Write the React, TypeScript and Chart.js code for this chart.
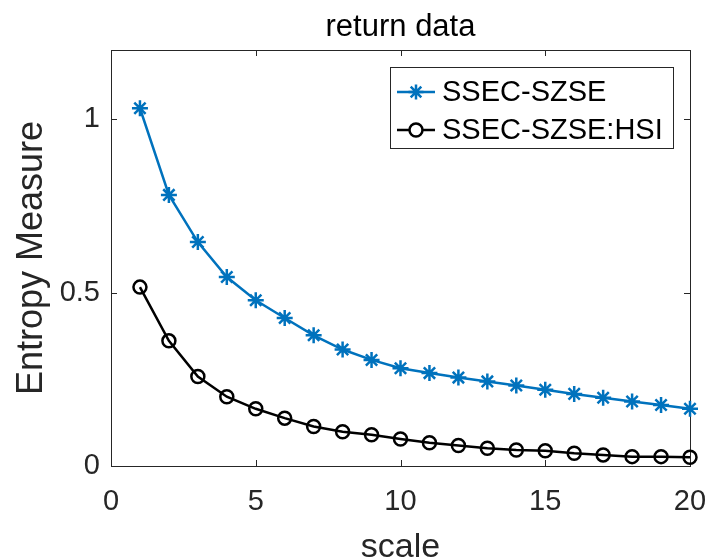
import React, { useEffect, useRef } from "react";
import { Chart, registerables } from "chart.js";

Chart.register(...registerables);

// ---- data ----
const scaleValues = [1, 2, 3, 4, 5, 6, 7, 8, 9, 10, 11, 12, 13, 14, 15, 16, 17, 18, 19, 20];
const sseSzse = [1.032, 0.782, 0.646, 0.545, 0.478, 0.427, 0.377, 0.336, 0.306, 0.282, 0.268, 0.255, 0.244, 0.232, 0.22, 0.208, 0.197, 0.186, 0.176, 0.165];
const sseSzseHsi = [0.516, 0.361, 0.258, 0.2, 0.165, 0.138, 0.114, 0.099, 0.09, 0.078, 0.067, 0.059, 0.051, 0.046, 0.044, 0.037, 0.032, 0.027, 0.027, 0.025];
const seriesLabels = ["SSEC-SZSE", "SSEC-SZSE:HSI"];
const xTicks = [0, 5, 10, 15, 20];
const yTicks = [0, 0.5, 1];
const titleText = "return data";
const xLabel = "scale";
const yLabel = "Entropy Measure";

const FONT = '"Liberation Sans", Arial, Helvetica, sans-serif';
const AXIS = "#262626";
const BLUE = "#0072BD";

const framePlugin = {
  id: "matlabFrame",
  beforeDatasetsDraw(chart: any) {
    const { ctx, chartArea, scales } = chart;
    const { left, right, top, bottom } = chartArea;
    ctx.save();
    ctx.strokeStyle = AXIS;
    ctx.lineWidth = 1;
    ctx.strokeRect(Math.round(left) + 0.5, Math.round(top) + 0.5, Math.round(right - left), Math.round(bottom - top));
    const tl = 6;
    ctx.beginPath();
    xTicks.forEach((v) => {
      const x = Math.round(scales.x.getPixelForValue(v)) + 0.5;
      ctx.moveTo(x, bottom);
      ctx.lineTo(x, bottom - tl);
      ctx.moveTo(x, top);
      ctx.lineTo(x, top + tl);
    });
    yTicks.forEach((v) => {
      const y = Math.round(scales.y.getPixelForValue(v)) + 0.5;
      ctx.moveTo(left, y);
      ctx.lineTo(left + tl, y);
      ctx.moveTo(right, y);
      ctx.lineTo(right - tl, y);
    });
    ctx.stroke();
    ctx.restore();
  },
  afterDraw(chart: any) {
    const { ctx, chartArea } = chart;
    const { left, right, top, bottom } = chartArea;
    const cx = (left + right) / 2;
    const cy = (top + bottom) / 2;
    ctx.save();
    ctx.fillStyle = "#000";
    ctx.textAlign = "center";
    ctx.textBaseline = "alphabetic";
    ctx.font = `31px ${FONT}`;
    ctx.fillText(titleText, cx, 36);
    ctx.fillStyle = AXIS;
    ctx.font = `34px ${FONT}`;
    ctx.fillText(xLabel, cx, 557);
    ctx.save();
    ctx.translate(42, cy);
    ctx.rotate(-Math.PI / 2);
    ctx.font = `36px ${FONT}`;
    ctx.fillText(yLabel, 0, 0);
    ctx.restore();

    // legend
    const bw = 283;
    const bh = 81;
    const bx = right - 300;
    const by = top + 17;
    ctx.fillStyle = "#fff";
    ctx.fillRect(bx, by, bw, bh);
    ctx.strokeStyle = AXIS;
    ctx.lineWidth = 1;
    ctx.strokeRect(bx + 0.5, by + 0.5, bw, bh);
    const rows = [by + 25, by + 63];
    chart.data.datasets.forEach((ds: any, i: number) => {
      const ry = rows[i];
      ctx.strokeStyle = ds.borderColor;
      ctx.lineWidth = 2.5;
      ctx.beginPath();
      ctx.moveTo(bx + 7, ry);
      ctx.lineTo(bx + 45, ry);
      ctx.stroke();
      const mx = bx + 26;
      const r = 7.5;
      ctx.beginPath();
      if (ds.pointStyle === "star") {
        const d = r * Math.SQRT1_2;
        ctx.moveTo(mx - r, ry); ctx.lineTo(mx + r, ry);
        ctx.moveTo(mx, ry - r); ctx.lineTo(mx, ry + r);
        ctx.moveTo(mx - d, ry - d); ctx.lineTo(mx + d, ry + d);
        ctx.moveTo(mx - d, ry + d); ctx.lineTo(mx + d, ry - d);
      } else {
        ctx.fillStyle = "#fff";
        ctx.arc(mx, ry, 6.5, 0, Math.PI * 2);
        ctx.fill();
      }
      ctx.stroke();
      ctx.fillStyle = "#000";
      ctx.textAlign = "left";
      ctx.textBaseline = "middle";
      ctx.font = `29px ${FONT}`;
      ctx.fillText(ds.label, bx + 52, ry + 1);
    });
    ctx.restore();
  },
};

export default function App() {
  const canvasRef = useRef<HTMLCanvasElement | null>(null);

  useEffect(() => {
    if (!canvasRef.current) return;
    const chart = new Chart(canvasRef.current, {
      type: "line",
      data: {
        datasets: [
          {
            label: seriesLabels[0],
            data: scaleValues.map((x, i) => ({ x, y: sseSzse[i] })),
            borderColor: BLUE,
            backgroundColor: BLUE,
            borderWidth: 2.5,
            pointStyle: "star",
            pointRadius: 8,
            pointBorderWidth: 2.5,
            pointBorderColor: BLUE,
            clip: false,
          },
          {
            label: seriesLabels[1],
            data: scaleValues.map((x, i) => ({ x, y: sseSzseHsi[i] })),
            borderColor: "#000",
            backgroundColor: "rgba(0,0,0,0)",
            borderWidth: 2.5,
            pointStyle: "circle",
            pointRadius: 6.5,
            pointBorderWidth: 2.5,
            pointBorderColor: "#000",
            pointBackgroundColor: "rgba(0,0,0,0)",
            clip: false,
          },
        ],
      },
      options: {
        responsive: false,
        animation: false,
        devicePixelRatio: 1,
        layout: { padding: { top: 50, right: 18, left: 0, bottom: 0 } },
        plugins: {
          legend: { display: false },
          title: { display: false },
          tooltip: { enabled: false },
        },
        scales: {
          x: {
            type: "linear",
            min: 0,
            max: 20,
            afterBuildTicks: (s: any) => {
              s.ticks = xTicks.map((v) => ({ value: v }));
            },
            afterFit: (s: any) => {
              s.height = 94;
              s.paddingLeft = 0;
              s.paddingRight = 0;
            },
            grid: { display: false, drawTicks: false },
            border: { display: false },
            ticks: {
              color: AXIS,
              font: { family: FONT, size: 29 },
              padding: 19,
              maxRotation: 0,
              autoSkip: false,
            },
          },
          y: {
            type: "linear",
            min: 0,
            max: 1.2,
            afterBuildTicks: (s: any) => {
              s.ticks = yTicks.map((v) => ({ value: v }));
            },
            afterFit: (s: any) => {
              s.width = 111;
              s.paddingTop = 0;
              s.paddingBottom = 0;
            },
            grid: { display: false, drawTicks: false },
            border: { display: false },
            ticks: {
              color: AXIS,
              font: { family: FONT, size: 29 },
              padding: 11,
              callback: (v: any) => String(v),
            },
          },
        },
      },
      plugins: [framePlugin],
    });
    return () => chart.destroy();
  }, []);

  return (
    <div style={{ position: "absolute", left: 0, top: 0, width: 708, height: 560, background: "#fff" }}>
      <canvas ref={canvasRef} width={708} height={560} style={{ display: "block" }} />
    </div>
  );
}
